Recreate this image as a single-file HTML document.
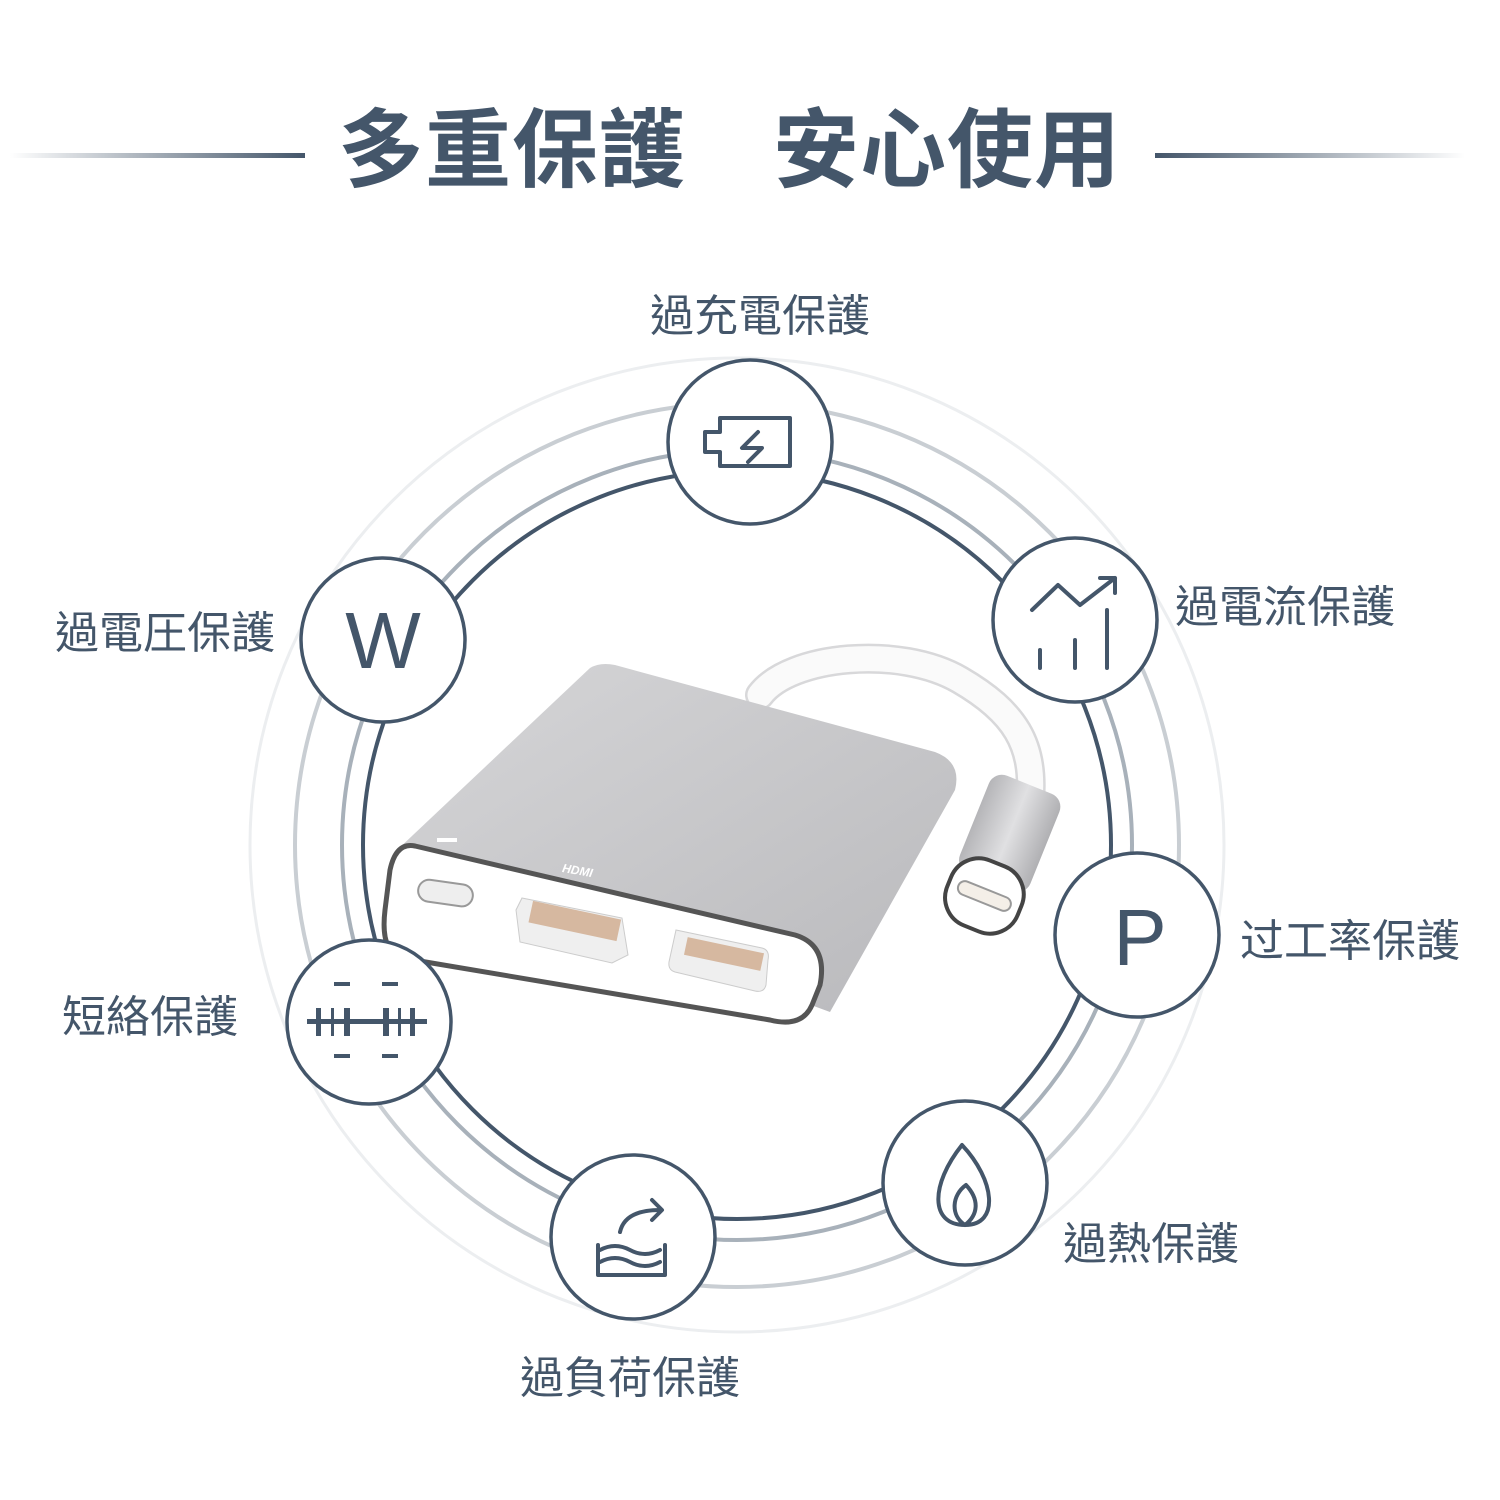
<!DOCTYPE html>
<html><head><meta charset="utf-8"><style>
body{margin:0;width:1500px;height:1500px;background:#fff;overflow:hidden;font-family:"Liberation Sans","Noto Sans CJK TC",sans-serif}
.t{position:absolute;color:#44566a;font-size:44px;white-space:nowrap;line-height:1}
</style></head><body>
<svg width="1500" height="1500" style="position:absolute;left:0;top:0">
<defs>
<linearGradient id="ln" x1="0" x2="1"><stop offset="0" stop-color="#fff"/><stop offset="1" stop-color="#44566a"/></linearGradient>
<linearGradient id="rn" x1="0" x2="1"><stop offset="0" stop-color="#44566a"/><stop offset="1" stop-color="#fff"/></linearGradient>
<linearGradient id="top" x1="0" y1="0" x2="1" y2="1"><stop offset="0" stop-color="#d6d6d8"/><stop offset="1" stop-color="#b9b9bc"/></linearGradient>
<linearGradient id="con" x1="0" x2="1"><stop offset="0" stop-color="#b5b5b8"/><stop offset="0.5" stop-color="#e0e0e2"/><stop offset="1" stop-color="#b0b0b3"/></linearGradient>
</defs>
<rect x="10" y="153" width="295" height="5" fill="url(#ln)"/>
<rect x="1155" y="153" width="310" height="5" fill="url(#rn)"/>
<g fill="none">
<circle cx="737" cy="845" r="487" stroke="#eceef0" stroke-width="3"/>
<circle cx="737" cy="845" r="442" stroke="#c9ced3" stroke-width="4"/>
<circle cx="737" cy="845" r="395" stroke="#a8b1ba" stroke-width="4"/>
<circle cx="737" cy="845" r="374" stroke="#44566a" stroke-width="4"/>
</g>
<!-- cable -->
<path d="M760 695 C790 655 900 645 960 680 C1015 712 1035 745 1030 800" fill="none" stroke="#d8d8da" stroke-width="30" stroke-linecap="round"/>
<path d="M760 695 C790 655 900 645 960 680 C1015 712 1035 745 1030 800" fill="none" stroke="#fafafa" stroke-width="25" stroke-linecap="round"/>
<!-- connector -->
<g transform="translate(1005,845) rotate(22)">
<rect x="-38" y="-65" width="76" height="105" rx="14" fill="url(#con)"/>
<rect x="-38" y="20" width="76" height="70" rx="30" fill="#fff" stroke="#444" stroke-width="4"/>
<rect x="-28" y="48" width="56" height="14" rx="7" fill="#f4efe8" stroke="#999" stroke-width="2"/>
</g>
<!-- body -->
<path d="M590 668 Q600 662 615 665 L935 752 Q962 762 955 790 L830 1012 L395 852 Z" fill="url(#top)"/>
<path d="M415 846 L795 935 Q828 945 820 985 L812 1005 Q802 1028 770 1020 L402 958 Q380 952 385 910 L390 870 Q396 842 415 846 Z" fill="#fff" stroke="#555" stroke-width="5"/>
<rect x="418" y="882" width="55" height="22" rx="11" fill="#eee" stroke="#999" stroke-width="2" transform="rotate(8 445 893)"/>
<path d="M522 898 L622 918 L628 955 L612 963 L520 942 L516 910 Z" fill="#efefef" stroke="#ccc"/>
<rect x="530" y="910" width="90" height="22" fill="#d6b8a0" transform="rotate(12 575 920)"/>
<path d="M676 930 L762 948 Q770 950 768 960 L766 985 Q764 993 755 991 L675 972 Q668 970 669 962 Z" fill="#efefef" stroke="#ccc"/>
<rect x="685" y="945" width="78" height="18" fill="#d6b8a0" transform="rotate(12 724 954)"/>
<text x="562" y="875" font-size="12" font-weight="bold" fill="#fff" font-style="italic" transform="rotate(10 580 872)">HDMI</text>
<rect x="437" y="838" width="20" height="4" fill="#fff"/>
<!-- icon circles -->
<g fill="#fff" stroke="#44566a" stroke-width="3.5">
<circle cx="750" cy="442" r="82"/>
<circle cx="383" cy="640" r="82"/>
<circle cx="1075" cy="620" r="82"/>
<circle cx="1137" cy="935" r="82"/>
<circle cx="965" cy="1183" r="82"/>
<circle cx="633" cy="1237" r="82"/>
<circle cx="369" cy="1022" r="82"/>
</g>
<g fill="none" stroke="#44566a" stroke-width="4" stroke-linecap="round" stroke-linejoin="round">
<path d="M720 418 H790 V466 H720 V452 H705 V432 H720 Z"/>
<path d="M758 432 L742 448 H762 L748 462"/>
<path d="M1032 610 L1058 585 L1080 605 L1115 578 M1100 578 H1115 V593"/>
<path d="M1040 650 V668 M1075 640 V668 M1107 610 V668"/>
<path d="M962 1145 C930 1185 930 1225 965 1225 C1000 1225 995 1180 962 1145 Z M965 1225 C950 1215 952 1195 966 1185 C980 1200 978 1215 965 1225"/>
<path d="M598 1245 V1275 H665 V1245 M600 1250 Q615 1242 630 1250 T660 1250 M600 1262 Q615 1254 630 1262 T660 1262 M620 1232 Q625 1210 660 1210 M652 1200 L662 1210 L652 1220"/>
</g>
<g fill="#44566a">
<rect x="334" y="982" width="16" height="4"/><rect x="382" y="982" width="16" height="4"/>
<rect x="334" y="1054" width="16" height="4"/><rect x="382" y="1054" width="16" height="4"/>
<rect x="307" y="1019" width="120" height="5"/>
<rect x="316" y="1008" width="5" height="28"/><rect x="331" y="1008" width="3" height="28"/><rect x="344" y="1008" width="6" height="28"/>
<rect x="383" y="1008" width="6" height="28"/><rect x="398" y="1008" width="3" height="28"/><rect x="410" y="1008" width="5" height="28"/>
</g>
<text x="383" y="668" font-size="80" fill="#44566a" text-anchor="middle" font-family="Liberation Sans">W</text>
<text x="1140" y="965" font-size="80" fill="#44566a" text-anchor="middle" font-family="Liberation Sans">P</text>
</svg>
<div class="t" style="left:338px;top:108px;font-size:86px;font-weight:bold;letter-spacing:1px">多重保護　安心使用</div>
<div class="t" style="left:650px;top:295px">過充電保護</div>
<div class="t" style="left:55px;top:612px">過電圧保護</div>
<div class="t" style="left:1175px;top:586px">過電流保護</div>
<div class="t" style="left:1240px;top:920px">过工率保護</div>
<div class="t" style="left:62px;top:996px">短絡保護</div>
<div class="t" style="left:1063px;top:1223px">過熱保護</div>
<div class="t" style="left:520px;top:1357px">過負荷保護</div>
</body></html>
